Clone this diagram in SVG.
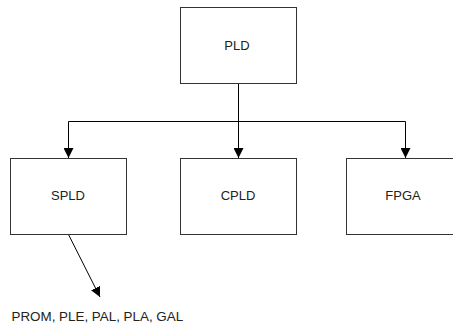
<svg xmlns="http://www.w3.org/2000/svg" width="453" height="326" viewBox="0 0 453 326">
  <defs>
    <marker id="arrow" viewBox="0 0 10 10" refX="10" refY="5" markerWidth="10" markerHeight="10" markerUnits="userSpaceOnUse" orient="auto">
      <path d="M0,0 L10,5 L0,10 Z" fill="#000"/>
    </marker>
    <style>
      .box { fill: #fff; stroke: #333; stroke-width: 1; }
      .label { font-family: "Liberation Sans", Arial, sans-serif; font-size: 13px; fill: #222; text-anchor: middle; }
      .wire { fill: none; stroke: #000; stroke-width: 1; }
    </style>
  </defs>
  <rect width="453" height="326" fill="#fff"/>

  <g id="connectors">
    <path class="wire" d="M238.5,83.5 V121.5"/>
    <path class="wire" d="M68.5,121.5 H405.5"/>
    <path class="wire" d="M68.5,121.5 V158" marker-end="url(#arrow)"/>
    <path class="wire" d="M238.5,121.5 V158" marker-end="url(#arrow)"/>
    <path class="wire" d="M405.5,121.5 V158" marker-end="url(#arrow)"/>
    <path class="wire" stroke="#444" d="M68.5,234.5 L100,297" marker-end="url(#arrow)"/>
  </g>

  <g id="pld">
    <rect class="box" x="180.5" y="7.5" width="116" height="76"/>
    <text class="label" x="237" y="50">PLD</text>
  </g>
  <g id="spld">
    <rect class="box" x="10.5" y="158.5" width="116" height="76"/>
    <text class="label" x="68" y="200">SPLD</text>
  </g>
  <g id="cpld">
    <rect class="box" x="180.5" y="158.5" width="116" height="76"/>
    <text class="label" x="238" y="200">CPLD</text>
  </g>
  <g id="fpga">
    <rect class="box" x="346.5" y="158.5" width="116" height="76"/>
    <text class="label" x="403" y="200">FPGA</text>
  </g>
  <g id="spld-types">
    <text class="label" x="11.5" y="321" style="text-anchor: start; font-size: 13.4px">PROM, PLE, PAL, PLA, GAL</text>
  </g>
</svg>
